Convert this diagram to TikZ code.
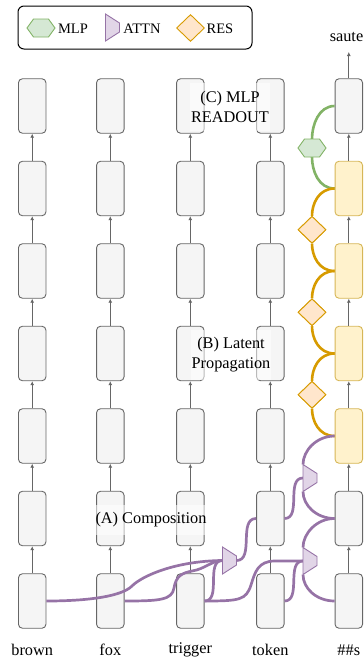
\documentclass[tikz,border=0pt]{standalone}
\usepackage{fontspec}
\setmainfont{Liberation Serif}
\usetikzlibrary{shapes.geometric,arrows.meta}

\definecolor{boxfill}{HTML}{F5F5F5}
\definecolor{boxline}{HTML}{666666}
\definecolor{yfill}{HTML}{FFF2CC}
\definecolor{yline}{HTML}{D6B656}
\definecolor{pline}{HTML}{9673A6}
\definecolor{pfill}{HTML}{E1D5E7}
\definecolor{oline}{HTML}{D79B00}
\definecolor{ofill}{HTML}{FFE6CC}
\definecolor{gline}{HTML}{82B366}
\definecolor{gfill}{HTML}{D5E8D4}

% hexagon (MLP): name, x, y
\newcommand{\mlphex}[3]{%
  \draw[gline, fill=gfill, line width=0.9pt]
    (#2-14,#3) -- (#2-7.5,#3-9) -- (#2+7.5,#3-9) -- (#2+14,#3)
    -- (#2+7.5,#3+9) -- (#2-7.5,#3+9) -- cycle;
  \coordinate (#1-n) at (#2,#3-9);
  \coordinate (#1-s) at (#2,#3+9);}
% trapezoid (ATTN): name, x, y
\newcommand{\attnshape}[3]{%
  \draw[pline, fill=pfill, line width=0.9pt]
    (#2-7,#3-13.5) -- (#2+7,#3-4.5) -- (#2+7,#3+4.5) -- (#2-7,#3+13.5) -- cycle;
  \coordinate (#1-nw) at (#2-7,#3-13.5);
  \coordinate (#1-sw) at (#2-7,#3+13.5);
  \coordinate (#1-w) at (#2-7,#3);
  \coordinate (#1-e) at (#2+7,#3);}

\begin{document}
\begin{tikzpicture}[x=1pt,y=-1pt,
  cell/.style={draw=boxline, fill=boxfill, rounded corners=4pt,
    minimum width=27.5pt, minimum height=54.5pt, inner sep=0pt, line width=0.9pt},
  ycell/.style={cell, draw=yline, fill=yfill},
  flow/.style={draw=boxline, line width=0.8pt, -{Latex[length=4pt,width=4pt]}},
  pconn/.style={draw=pline, line width=2.7pt},
  oconn/.style={draw=oline, line width=2.6pt},
  gconn/.style={draw=gline, line width=2.6pt},
  resd/.style={diamond, draw=oline, fill=ofill, minimum width=28pt,
    minimum height=27pt, inner sep=0pt, line width=0.9pt},
  txt/.style={font=\fontsize{16.3}{20}\selectfont, inner sep=0pt},
  ltxt/.style={font=\fontsize{14.5}{17}\selectfont, inner sep=0pt},
  lab/.style={font=\fontsize{16.3}{20}\selectfont, align=center, fill=white,
    fill opacity=0.55, text opacity=1, inner xsep=1pt, inner ysep=8pt}
]
\useasboundingbox (0,0) rectangle (364,659);

% legend
\node[draw, line width=1pt, rounded corners=6pt, minimum width=234pt,
  minimum height=43pt, inner sep=0pt] (legend) at (135,27.5) {};
\mlphex{lh}{41}{28}
\node[ltxt] (lmlp) at (73,28.5) {MLP};
\attnshape{la}{112.5}{27.5}
\node[ltxt] (lattn) at (142,28.5) {ATTN};
\node[resd] (lr) at (190.5,28) {};
\node[ltxt] (lres) at (220,28.5) {RES};

% boxes
\foreach \c/\x in {1/32.2,2/110.3,3/190.3,4/270.3} {
  \foreach \r/\y in {1/106,2/188.5,3/271,4/353.5,5/436,6/518.5,7/601} {
    \node[cell] (b\c\r) at (\x,\y) {};
  }
}
\node[cell]  (b51) at (348.8,106) {};
\node[ycell] (b52) at (348.8,188.5) {};
\node[ycell] (b53) at (348.8,271) {};
\node[ycell] (b54) at (348.8,353.5) {};
\node[ycell] (b55) at (348.8,436) {};
\node[cell]  (b56) at (348.8,518.5) {};
\node[cell]  (b57) at (348.8,601) {};

% vertical arrows
\foreach \c in {1,...,5} {
  \foreach \r [evaluate=\r as \rr using int(\r+1)] in {1,...,6} {
    \draw[flow] (b\c\rr.north) -- (b\c\r.south);
  }
}
\coordinate (outtop) at (348.8,52);
\draw[flow] (b51.north) -- (outtop);
\node[txt] (saute) at (346.5,37) {saute};

% token labels
\node[txt] (w1) at (32.2,650) {brown};
\node[txt] (w2) at (110.3,650) {fox};
\node[txt] (w3) at (190.3,650) {trigger};
\node[txt] (w4) at (270.3,650) {token};
\node[txt] (w5) at (348.8,650) {\#\#s};

% green MLP readout
\draw[gconn] (b52.west) .. controls +(-16,0) and +(0,14) .. (312,157);
\draw[gconn] (312,139) .. controls +(0,-14) and +(-16,0) .. (b51.west);
\mlphex{h1}{312}{148}

% orange residual
\node[resd] (d2) at (312,229.75) {};
\node[resd] (d3) at (312,312.25) {};
\node[resd] (d4) at (312,394.75) {};
\draw[oconn] (b53.west) .. controls +(-16,0) and +(0,12) .. (d2.south);
\draw[oconn] (d2.north) .. controls +(0,-12) and +(-16,0) .. (b52.west);
\draw[oconn] (b54.west) .. controls +(-16,0) and +(0,12) .. (d3.south);
\draw[oconn] (d3.north) .. controls +(0,-12) and +(-16,0) .. (b53.west);
\draw[oconn] (b55.west) .. controls +(-16,0) and +(0,12) .. (d4.south);
\draw[oconn] (d4.north) .. controls +(0,-12) and +(-16,0) .. (b54.west);
\node[resd] at (d2) {};
\node[resd] at (d3) {};
\node[resd] at (d4) {};

% purple attention connectors (coordinates of trapezoids)
\coordinate (t1-nw) at (303,464.5);
\coordinate (t1-sw) at (303,491.5);
\coordinate (t1-w) at (303,478);
\coordinate (t2-nw) at (303,547.5);
\coordinate (t2-sw) at (303,574.5);
\coordinate (t2-w) at (303,561);
\coordinate (t3-w) at (222.5,560.5);
\coordinate (t3-e) at (236.5,560.5);

\draw[pconn] (b55.west) .. controls +(-18,0) and +(0,-14) .. (t1-nw);
\draw[pconn] (t1-sw) .. controls +(0,14) and +(-18,0) .. (b56.west);
\draw[pconn] (b46.east) to[out=0,in=180] (t1-w);
\draw[pconn] (t2-nw) .. controls +(0,-14) and +(-18,0) .. (b56.west);
\draw[pconn] (t2-sw) .. controls +(0,14) and +(-18,0) .. (b57.west);
\draw[pconn] (b47.east) to[out=0,in=180] (t2-w);
\draw[pconn] (b37.east) .. controls (240,601) and (246,600) .. (251,585)
  .. controls (255,572) and (258,561) .. (275,561) -- (t2-w);
\draw[pconn] (t3-e) to[out=0,in=180] (b46.west);
\draw[pconn] (b37.east) to[out=0,in=180] (t3-w);
\draw[pconn] (b17.east) .. controls (90,601) and (122,596) .. (132,586)
  .. controls (142,576) and (175,561) .. (t3-w);
\draw[pconn] (b27.east) .. controls (160,601) and (172,600) .. (174,588)
  .. controls (176,576) and (182,573) .. (192,571)
  .. controls (205,569) and (212,560.5) .. (t3-w);

\attnshape{t1}{310}{478}
\attnshape{t2}{310}{561}
\attnshape{t3}{229.5}{560.5}

% annotations
\node[lab] (lc) at (230,107) {(C) MLP\\READOUT};
\node[lab] (lb) at (231,355) {(B) Latent\\Propagation};
\node[lab] (la2) at (151,520) {(A) Composition};
\end{tikzpicture}
\end{document}
